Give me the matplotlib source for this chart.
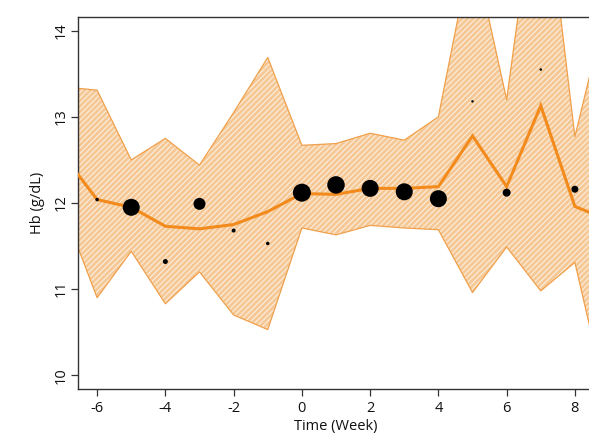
import matplotlib
matplotlib.use("Agg")
import matplotlib.pyplot as plt
import numpy as np

# ---- data ----
weeks_band = [-7, -6, -5, -4, -3, -2, -1, 0, 1, 2, 3, 4, 5, 6, 7, 8, 9]
fit_line   = [12.56, 12.04, 11.95, 11.73, 11.70, 11.75, 11.90, 12.11, 12.10, 12.17, 12.17, 12.19, 12.78, 12.19, 13.13, 11.96, 11.80]
band_upper = [13.35, 13.31, 12.50, 12.75, 12.44, 13.05, 13.69, 12.67, 12.69, 12.81, 12.73, 13.00, 15.00, 13.20, 16.10, 12.77, 14.40]
band_lower = [11.94, 10.90, 11.44, 10.83, 11.20, 10.70, 10.53, 11.71, 11.63, 11.74, 11.71, 11.69, 10.96, 11.49, 10.98, 11.31, 9.60]

weeks_obs = [-6, -5, -4, -3, -2, -1, 0, 1, 2, 3, 4, 5, 6, 7, 8]
hb_mean   = [12.04, 11.95, 11.32, 11.99, 11.68, 11.53, 12.12, 12.21, 12.17, 12.13, 12.05, 13.18, 12.12, 13.55, 12.16]
obs_weight = [3.5, 17, 5, 12, 4, 3.5, 18, 17.5, 17, 17, 17, 2.5, 8, 2.5, 7]  # relative dot diameter

x_ticks = [-6, -4, -2, 0, 2, 4, 6, 8]
y_ticks = [10, 11, 12, 13, 14]

plt.rcParams['font.family'] = ['Open Sans', 'DejaVu Sans']
plt.rcParams['hatch.linewidth'] = 0.8

W, H = 589, 438
fig = plt.figure(figsize=(W / 100, H / 100), dpi=100)
ax = fig.add_axes([78 / W, (H - 389) / H, (594 - 78) / W, (389 - 17) / H])

# band
ax.fill_between(weeks_band, band_lower, band_upper, facecolor='#F5C896',
                edgecolor='#FCEEDD', hatch='//////', linewidth=0, zorder=1)
ax.plot(weeks_band, band_upper, color='#F0A04B', lw=0.9, zorder=2)
ax.plot(weeks_band, band_lower, color='#F0A04B', lw=0.9, zorder=2)

# fitted line
ax.plot(weeks_band, fit_line, color='#F28A1C', lw=2.2, zorder=3, solid_joinstyle='miter')

# observed points
sizes = [(d * 0.72) ** 2 for d in obs_weight]
ax.scatter(weeks_obs, hb_mean, s=sizes, color='black', zorder=4, linewidths=0)

ax.set_xlim(-6.56, 8.56)
ax.set_ylim(9.84, 14.16)
ax.set_xticks(x_ticks)
ax.set_yticks(y_ticks)
ax.set_xticklabels([str(t) for t in x_ticks])
ax.set_yticklabels([str(t) for t in y_ticks], rotation=90, va='center')

for s in ax.spines.values():
    s.set_color('#333333')
    s.set_linewidth(1.0)

ax.tick_params(direction='out', length=5, width=0.9, color='#333333',
               labelsize=10.5, labelcolor='#111111')
ax.tick_params(axis='x', pad=4)
ax.tick_params(axis='y', pad=2)

ax.set_xlabel('Time (Week)', fontsize=10.5, color='#111111', labelpad=2)
ax.set_ylabel('Hb (g/dL)', fontsize=10.5, color='#111111', labelpad=6)

fig.savefig('out.png', dpi=100)
